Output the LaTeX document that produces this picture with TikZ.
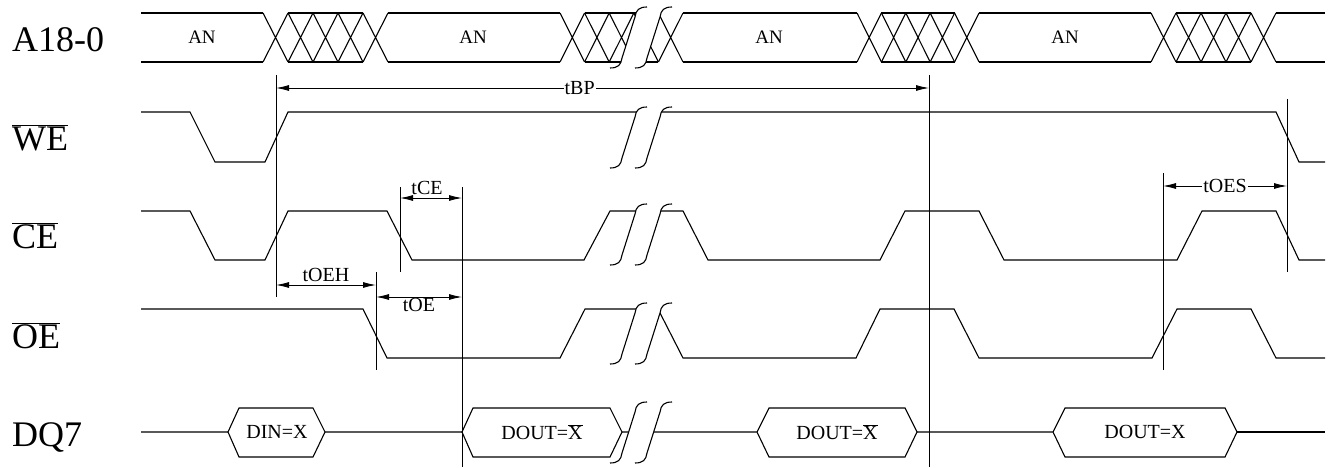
\documentclass[tikz,border=0pt]{standalone}
\usepackage{fontspec}
\setmainfont{Liberation Serif}
\usetikzlibrary{arrows.meta}
\tikzset{
  sig/.style={line width=1.1pt},
  vline/.style={line width=0.9pt},
  dim/.style={line width=0.9pt,{Latex[length=13pt,width=6pt]}-{Latex[length=13pt,width=6pt]}},
  signame/.style={font=\fontsize{36}{40}\selectfont,anchor=base west,inner sep=0pt},
  lbl/.style={font=\fontsize{20}{24}\selectfont,inner sep=1pt},
  bustext/.style={font=\fontsize{19}{22}\selectfont},
  boxtext/.style={font=\fontsize{20}{24}\selectfont},
}
\begin{document}
\begin{tikzpicture}[x=1pt,y=-1pt]
  \useasboundingbox (0,0) rectangle (1332,468);

  \node[signame] (a18) at (12,52) {A18-0};
  \node[signame] (we) at (12,150) {$\overline{\mbox{WE}}$};
  \node[signame] (ce) at (12,248) {$\overline{\mbox{CE}}$};
  \node[signame] (oe) at (12,348) {$\overline{\mbox{OE}}$};
  \node[signame] (dq7) at (12,446) {DQ7};

  \foreach \xl/\xr in {141/263,388/560,683/857,979/1151,1276/1325}
    \draw[sig] (\xl,13) -- (\xr,13) (\xl,62) -- (\xr,62);
  \foreach \xa/\xs in {263/25,560/24.6,857/24.4,1151/25} {
    \foreach \k in {0,...,4}
      \draw[sig] ({\xa+\k*\xs},13) -- ({\xa+(\k+1)*\xs},62)
                 ({\xa+\k*\xs},62) -- ({\xa+(\k+1)*\xs},13);
    \draw[sig] ({\xa+\xs},13) -- ({\xa+4*\xs},13) ({\xa+\xs},62) -- ({\xa+4*\xs},62);
  }
  \node[bustext] (an1) at (202,37) {AN};
  \node[bustext] (an2) at (473,37) {AN};
  \node[bustext] (an3) at (769,37) {AN};
  \node[bustext] (an4) at (1065,37) {AN};

  \draw[sig] (141,112) -- (190,112) -- (215,162) -- (265,162) -- (288,112)
    -- (1276,112) -- (1299,162) -- (1325,162);
  \draw[sig] (141,211) -- (190,211) -- (215,260) -- (265,260) -- (288,211)
    -- (387,211) -- (412,260) -- (584,260) -- (610,211) -- (683,211)
    -- (708,260) -- (880,260) -- (905,211) -- (979,211) -- (1004,260)
    -- (1177,260) -- (1202,211) -- (1276,211) -- (1299,260) -- (1325,260);
  \draw[sig] (141,309) -- (363,309) -- (387,358) -- (560,358) -- (585,309)
    -- (658,309) -- (683,358) -- (856,358) -- (880,309) -- (954,309)
    -- (979,358) -- (1152,358) -- (1177,309) -- (1251,309) -- (1276,358)
    -- (1325,358);

  \draw[sig] (141,432) -- (228,432) -- (239,408) -- (313,408) -- (325,432)
    -- (313,457) -- (239,457) -- (228,432);
  \draw[sig] (325,432) -- (462,432) -- (473,408) -- (610,408) -- (622,432)
    -- (610,457) -- (473,457) -- (462,432);
  \draw[sig] (622,432) -- (757,432) -- (769,408) -- (905,408) -- (917,432)
    -- (905,457) -- (769,457) -- (757,432);
  \draw[sig] (917,432) -- (1053,432) -- (1065,408) -- (1225,408) -- (1237,432)
    -- (1225,457) -- (1065,457) -- (1053,432);
  \draw[sig] (1237,432) -- (1325,432);
  \node[boxtext] (din) at (277,432) {DIN=X};
  \node[boxtext] (dout1) at (542,432) {DOUT=$\overline{\mbox{X}}$};
  \node[boxtext] (dout2) at (837,432) {DOUT=$\overline{\mbox{X}}$};
  \node[boxtext] (dout3) at (1145,432) {DOUT=X};

  \foreach \yt in {7,107,204,303,402} {
    \fill[white] (610,\yt+61) .. controls (618,\yt+61) and (621,\yt+58) .. (622,\yt+51)
      -- (635,\yt+10) .. controls (636,\yt+3) and (639,\yt) .. (647,\yt)
      -- (672,\yt) .. controls (664,\yt) and (661,\yt+3) .. (660,\yt+10)
      -- (647,\yt+51) .. controls (646,\yt+58) and (643,\yt+61) .. (635,\yt+61) -- cycle;
    \foreach \xb in {610,635}
      \draw[sig] (\xb,\yt+61) .. controls (\xb+8,\yt+61) and (\xb+11,\yt+58) .. (\xb+12,\yt+51)
        -- (\xb+25,\yt+10) .. controls (\xb+26,\yt+3) and (\xb+29,\yt) .. (\xb+37,\yt);
  }

  \coordinate (v1t) at (276,75);   \coordinate (v1b) at (276,297);
  \coordinate (v2t) at (929,75);   \coordinate (v2b) at (929,467);
  \coordinate (v3t) at (400,187);  \coordinate (v3b) at (400,272);
  \coordinate (v4t) at (462,187);  \coordinate (v4b) at (462,467);
  \coordinate (v5t) at (376,272);  \coordinate (v5b) at (376,370);
  \coordinate (v6t) at (1163,173); \coordinate (v6b) at (1163,370);
  \coordinate (v7t) at (1287,99);  \coordinate (v7b) at (1287,272);
  \foreach \v in {v1,v2,v3,v4,v5,v6,v7}
    \draw[vline] (\v t) -- (\v b);

  \coordinate (bpl) at (276,88);   \coordinate (bpr) at (929,88);
  \coordinate (cel) at (400,198);  \coordinate (cer) at (462,198);
  \coordinate (oehl) at (276,285); \coordinate (oehr) at (376,285);
  \coordinate (oel) at (376,297);  \coordinate (oer) at (462,297);
  \coordinate (oesl) at (1163,186); \coordinate (oesr) at (1287,186);

  \draw[dim] (bpl) -- node[lbl,pos=0.465,fill=white] (tbp) {tBP} (bpr);
  \draw[dim] (cel) -- node[lbl,above=2pt,xshift=-4pt] (tce) {tCE} (cer);
  \draw[dim] (oehl) -- node[lbl,above=2pt] (toeh) {tOEH} (oehr);
  \draw[dim] (oel) -- node[lbl,below] (toe) {tOE} (oer);
  \draw[dim] (oesl) -- node[lbl,fill=white] (toes) {tOES} (oesr);
\end{tikzpicture}
\end{document}
